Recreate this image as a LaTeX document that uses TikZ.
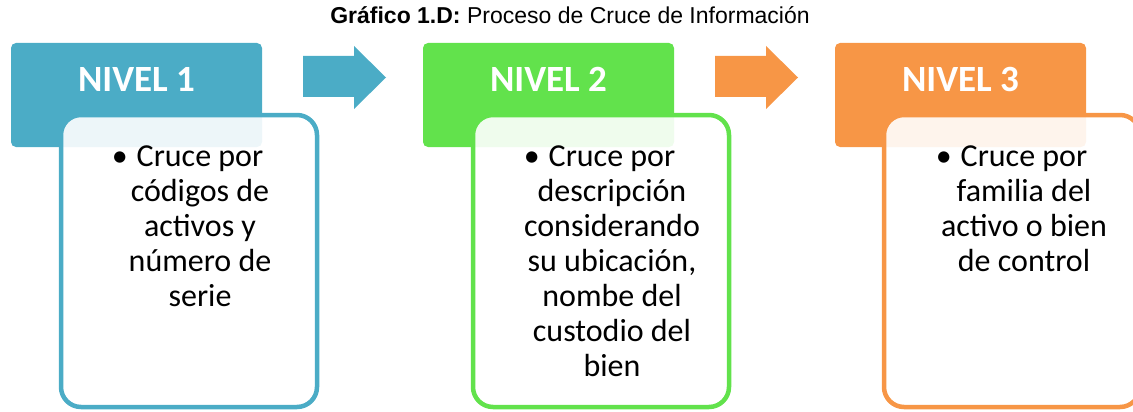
\documentclass[tikz,border=0pt]{standalone}
\usepackage{fontspec}
\setmainfont{Carlito}
\newfontfamily\arialf{Liberation Sans}
\definecolor{cblue}{HTML}{4BACC6}
\definecolor{cgreen}{HTML}{62E24C}
\definecolor{corange}{HTML}{F79646}
\begin{document}
\begin{tikzpicture}[x=1pt,y=-1pt,
  headbox/.style={fill=#1, draw=none, rounded corners=5pt, minimum width=251pt, minimum height=104pt, anchor=north west, inner sep=0pt, outer sep=0pt},
  bodybox/.style={draw=#1, line width=4.5pt, fill=white, fill opacity=0.9, draw opacity=1, rounded corners=20pt, minimum width=256pt, minimum height=292pt, anchor=north west, inner sep=0pt, outer sep=0pt},
  headtext/.style={text=white, font=\bfseries\fontsize{37}{40}\selectfont, anchor=base, inner sep=0pt},
  bodytext/.style={text=black, font=\fontsize{32}{35}\selectfont, align=center, anchor=base, inner sep=0pt},
  procarrow/.style={fill=#1, draw=none}
]
\useasboundingbox (0,0) rectangle (1133,412);
\clip (0,0) rectangle (1133,412);

\node[anchor=base, inner sep=0pt, font=\arialf\fontsize{23}{26}\selectfont] (title) at (570,24)
  {\textbf{Gráfico 1.D:} Proceso de Cruce de Información};

% Level 1
\node[headbox=cblue] (h1) at (11,43) {};
\node[headtext] (h1t) at (136.5,92) {NIVEL 1};
\node[bodybox=cblue] (b1) at (61,115) {};
\node[bodytext] (b1t) at (200,306.5) {\llap{•\kern 9pt}Cruce por\\códigos de\\activos y\\número de\\serie};

% Arrow 1
\fill[procarrow=cblue] (303,56) -- (354,56) -- (354,46) -- (386,77.5) -- (354,109) -- (354,97) -- (303,97) -- cycle;

% Level 2
\node[headbox=cgreen] (h2) at (423,43) {};
\node[headtext] (h2t) at (548.5,92) {NIVEL 2};
\node[bodybox=cgreen] (b2) at (473,115) {};
\node[bodytext] (b2t) at (612,376.5) {\llap{•\kern 9pt}Cruce por\\descripción\\considerando\\su ubicación,\\nombe del\\custodio del\\bien};

% Arrow 2
\fill[procarrow=corange] (715,56) -- (766,56) -- (766,46) -- (798,77.5) -- (766,109) -- (766,97) -- (715,97) -- cycle;

% Level 3
\node[headbox=corange] (h3) at (835,43) {};
\node[headtext] (h3t) at (960.5,92) {NIVEL 3};
\node[bodybox=corange] (b3) at (884,115) {};
\node[bodytext] (b3t) at (1024,271.5) {\llap{•\kern 9pt}Cruce por\\familia del\\activo o bien\\de control};
\end{tikzpicture}
\end{document}
